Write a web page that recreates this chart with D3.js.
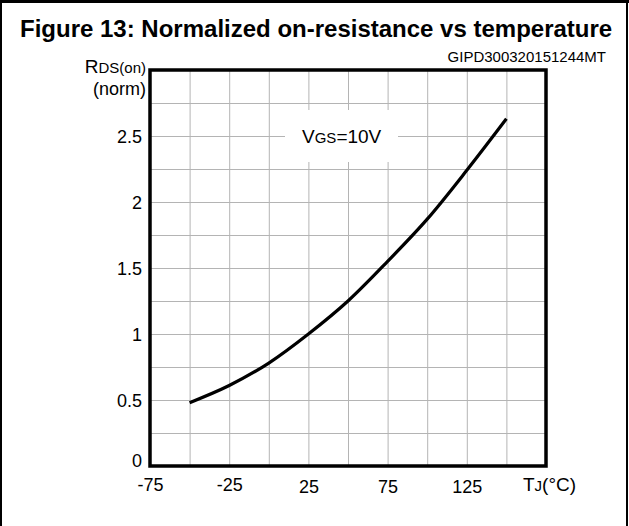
<!DOCTYPE html>
<html>
<head>
<meta charset="utf-8">
<script src="https://cdn.jsdelivr.net/npm/d3@7"></script>
<style>
  body { margin: 0; background: #fff; }
  svg { display: block; font-family: "Liberation Sans", Arial, sans-serif; }
</style>
</head>
<body>
<svg id="chart" width="629" height="526"></svg>
<script>
// data
var tempC = [-50, -25, 0, 25, 50, 75, 100, 125, 150];
var rdsNorm = [0.48, 0.61, 0.78, 1.0, 1.25, 1.55, 1.87, 2.24, 2.63];
var xTickLabels = [-75, -25, 25, 75, 125];
var yTickLabels = [0, 0.5, 1, 1.5, 2, 2.5];
var xGridValues = d3.range(-75, 176, 25);
var yGridValues = d3.range(0, 3.01, 0.25);

var svg = d3.select("#chart");
var plotLeft = 150, plotRight = 546, plotTop = 70, plotBottom = 466;

var x = d3.scaleLinear().domain([-75, 175]).range([plotLeft, plotRight]);
var y = d3.scaleLinear().domain([0, 3]).range([plotBottom, plotTop]);

// outer frame
svg.append("line").attr("x1", 0).attr("x2", 629).attr("y1", 1.5).attr("y2", 1.5)
  .attr("stroke", "#000").attr("stroke-width", 3);
svg.append("line").attr("x1", 1).attr("x2", 1).attr("y1", 0).attr("y2", 526)
  .attr("stroke", "#000").attr("stroke-width", 2);
svg.append("line").attr("x1", 627).attr("x2", 627).attr("y1", 0).attr("y2", 526)
  .attr("stroke", "#000").attr("stroke-width", 2);

// title
svg.append("text").attr("x", 20).attr("y", 37)
  .attr("font-size", 24).attr("font-weight", "bold").attr("fill", "#000")
  .text("Figure 13: Normalized on-resistance vs temperature");
svg.append("text").attr("x", 606).attr("y", 62).attr("text-anchor", "end")
  .attr("font-size", 15).attr("fill", "#000")
  .text("GIPD300320151244MT");

// grid
svg.append("g").attr("transform", "translate(0," + plotBottom + ")")
  .call(d3.axisBottom(x).tickValues(xGridValues).tickSize(-(plotBottom - plotTop)).tickFormat(""))
  .call(function(g) { g.select(".domain").remove(); })
  .selectAll("line").attr("stroke", "#b4b4b4").attr("stroke-width", 1);
svg.append("g").attr("transform", "translate(" + plotLeft + ",0)")
  .call(d3.axisLeft(y).tickValues(yGridValues).tickSize(-(plotRight - plotLeft)).tickFormat(""))
  .call(function(g) { g.select(".domain").remove(); })
  .selectAll("line").attr("stroke", "#b4b4b4").attr("stroke-width", 1);

// label box for VGS
svg.append("rect").attr("x", 285).attr("y", 110).attr("width", 113).attr("height", 52)
  .attr("fill", "#fff");
var vgs = svg.append("text").attr("x", 302).attr("y", y(2.5) + 7)
  .attr("font-size", 19).attr("fill", "#000");
vgs.append("tspan").text("V");
vgs.append("tspan").attr("font-size", 15).text("GS");
vgs.append("tspan").text("=10V");

// tick labels
svg.append("g").attr("transform", "translate(0," + plotBottom + ")")
  .call(d3.axisBottom(x).tickValues(xTickLabels).tickSize(0).tickPadding(10).tickFormat(function(d) { return String(d); }))
  .call(function(g) { g.select(".domain").remove(); })
  .selectAll("text").attr("font-size", 18).attr("font-family", "Liberation Sans, Arial, sans-serif")
  .attr("fill", "#000").attr("dy", function(d) { return d > 0 ? "0.95em" : "0.85em"; });
svg.append("g").attr("transform", "translate(" + (plotLeft - 8) + ",0)")
  .call(d3.axisLeft(y).tickValues(yTickLabels).tickSize(0).tickPadding(0).tickFormat(function(d) { return String(d); }))
  .call(function(g) { g.select(".domain").remove(); })
  .selectAll("text").attr("font-size", 18).attr("font-family", "Liberation Sans, Arial, sans-serif")
  .attr("fill", "#000").attr("dy", function(d) { return d === 0 ? "0" : "0.35em"; });

// axis titles
var yt = svg.append("text").attr("x", 146).attr("y", 73).attr("text-anchor", "end")
  .attr("fill", "#000").attr("font-size", 19);
yt.append("tspan").text("R");
yt.append("tspan").attr("font-size", 15).text("DS(on)");
svg.append("text").attr("x", 146).attr("y", 95).attr("text-anchor", "end")
  .attr("fill", "#000").attr("font-size", 18).text("(norm)");
var xt = svg.append("text").attr("x", 523).attr("y", 491)
  .attr("fill", "#000").attr("font-size", 19);
xt.append("tspan").text("T");
xt.append("tspan").attr("font-size", 15).text("J");
xt.append("tspan").text("(°C)");

// curve
svg.append("path").datum(d3.zip(tempC, rdsNorm))
  .attr("fill", "none").attr("stroke", "#000").attr("stroke-width", 3.2)
  .attr("d", d3.line().x(function(d) { return x(d[0]); }).y(function(d) { return y(d[1]); })
    .curve(d3.curveMonotoneX));

// plot frame
svg.append("rect").attr("x", plotLeft).attr("y", plotTop).attr("width", plotRight - plotLeft).attr("height", plotBottom - plotTop)
  .attr("fill", "none").attr("stroke", "#000").attr("stroke-width", 3.5);
</script>
</body>
</html>
